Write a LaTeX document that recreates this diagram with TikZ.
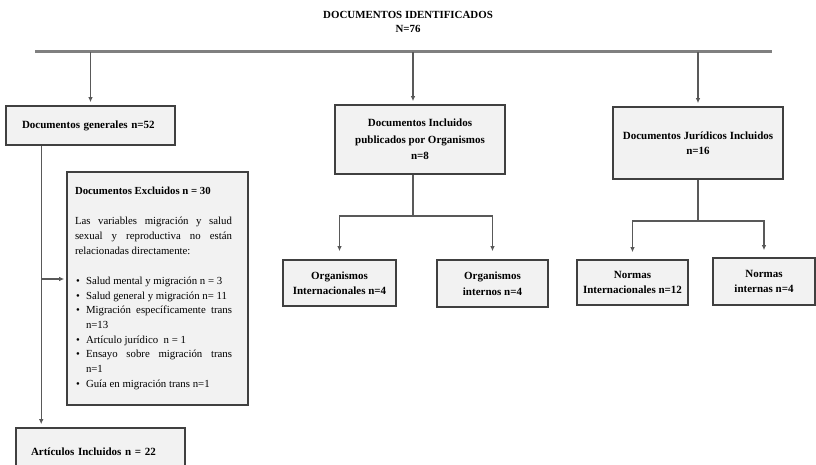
\documentclass[tikz,border=0pt]{standalone}
\usepackage{fontspec}
\setmainfont{Liberation Serif}
\usepackage{enumitem}
\usetikzlibrary{arrows.meta,positioning}

\begin{document}
\begin{tikzpicture}[x=1pt,y=-1pt,>={Latex[length=5pt,width=4.5pt]},
caja/.style={shape=rectangle,draw=black!75,line width=1.6pt,fill=black!5,align=center,font=\fontsize{11}{15.5}\selectfont\bfseries,inner sep=0pt},
linea/.style={draw=black!65,line width=1.4pt},
flecha/.style={linea,->,shorten >=3pt}]

\useasboundingbox (0,0) rectangle (816,465);
\clip (0,0) rectangle (816,465);

\node[font=\fontsize{10.9}{14}\selectfont\bfseries,align=center] (titulo) at (408,22) {DOCUMENTOS IDENTIFICADOS\\N=76};
\coordinate (barI) at (35,52);
\coordinate (barD) at (772,52);
\draw[draw=black!50,line width=3pt] (barI) -- (barD);

\node[caja,minimum width=169pt,minimum height=39pt,text width=137pt,inner xsep=16pt,align=left] (gen) at (90.5,125.5) {Documentos generales n=52};
\node[caja,minimum width=170pt,minimum height=69pt,font=\fontsize{11}{16.5}\selectfont\bfseries] (org) at (420,139.5) {Documentos Incluidos\\publicados por Organismos\\n=8};
\node[caja,minimum width=170pt,minimum height=72pt,font=\fontsize{11}{14.5}\selectfont\bfseries] (jur) at (698,143) {Documentos Jurídicos Incluidos\\n=16};

\node[caja,minimum width=113pt,minimum height=46pt] (orgint) at (339.5,283) {Organismos\\Internacionales n=4};
\node[caja,minimum width=111pt,minimum height=47pt] (orgnac) at (492.5,283.5) {Organismos\\internos n=4};
\node[caja,minimum width=111pt,minimum height=45pt,font=\fontsize{11}{14.5}\selectfont\bfseries] (normint) at (632.5,282.5) {Normas\\Internacionales n=12};
\node[caja,minimum width=102pt,minimum height=47pt,font=\fontsize{11}{14.5}\selectfont\bfseries] (normnac) at (764,281.5) {Normas\\internas n=4};

\node[caja,minimum width=181pt,minimum height=233pt,text width=165pt,align=justify,font=\fontsize{10.8}{14.7}\selectfont] (excl) at (157.5,288.5) {%
\begin{minipage}{157pt}
\textbf{Documentos Excluidos n = 30}\par\vspace{15.3pt}
Las variables migración y salud\linebreak sexual y reproductiva no están\linebreak relacionadas directamente:
\begin{itemize}[leftmargin=11pt,labelsep=6pt,topsep=15.3pt,itemsep=0pt,parsep=0pt,partopsep=0pt,label=\textbullet]
\item Salud mental y migración n = 3
\item Salud general y migración n= 11
\item Migración específicamente trans\linebreak n=13
\item Artículo jurídico\ \ n = 1
\item Ensayo sobre migración trans\linebreak n=1
\item Guía en migración trans n=1
\end{itemize}
\end{minipage}\hspace*{8pt}};

\node[caja,minimum width=169pt,minimum height=48pt,text width=139pt,inner xsep=15pt,align=left] (art) at (100.5,452) {Artículos Incluidos n = 22};

\coordinate (b2) at (413,52);
\coordinate (ojun) at (413,216);
\coordinate (jjun) at (698,221);
\coordinate (gs) at ([xshift=36pt]gen.south west);
\coordinate (rama) at (42,279);

\draw[flecha] (gen.north |- barI) -- (gen.north);
\draw[flecha] (b2) -- (b2 |- org.north);
\draw[flecha] (jur.north |- barI) -- (jur.north);

\draw[linea] (b2 |- org.south) -- (ojun);
\draw[flecha,shorten >=8pt] (ojun) -| (orgint.north);
\draw[flecha,shorten >=8pt] (ojun) -| (orgnac.north);

\draw[linea] (jur.south) -- (jjun);
\draw[flecha,shorten >=7pt] (jjun) -| (normint.north);
\draw[flecha,shorten >=7pt] (jjun) -| (normnac.north);

\draw[flecha] (gs) -- (gs |- art.north);
\draw[flecha,shorten >=2pt] (rama) -- (rama -| excl.west);
\end{tikzpicture}
\end{document}
